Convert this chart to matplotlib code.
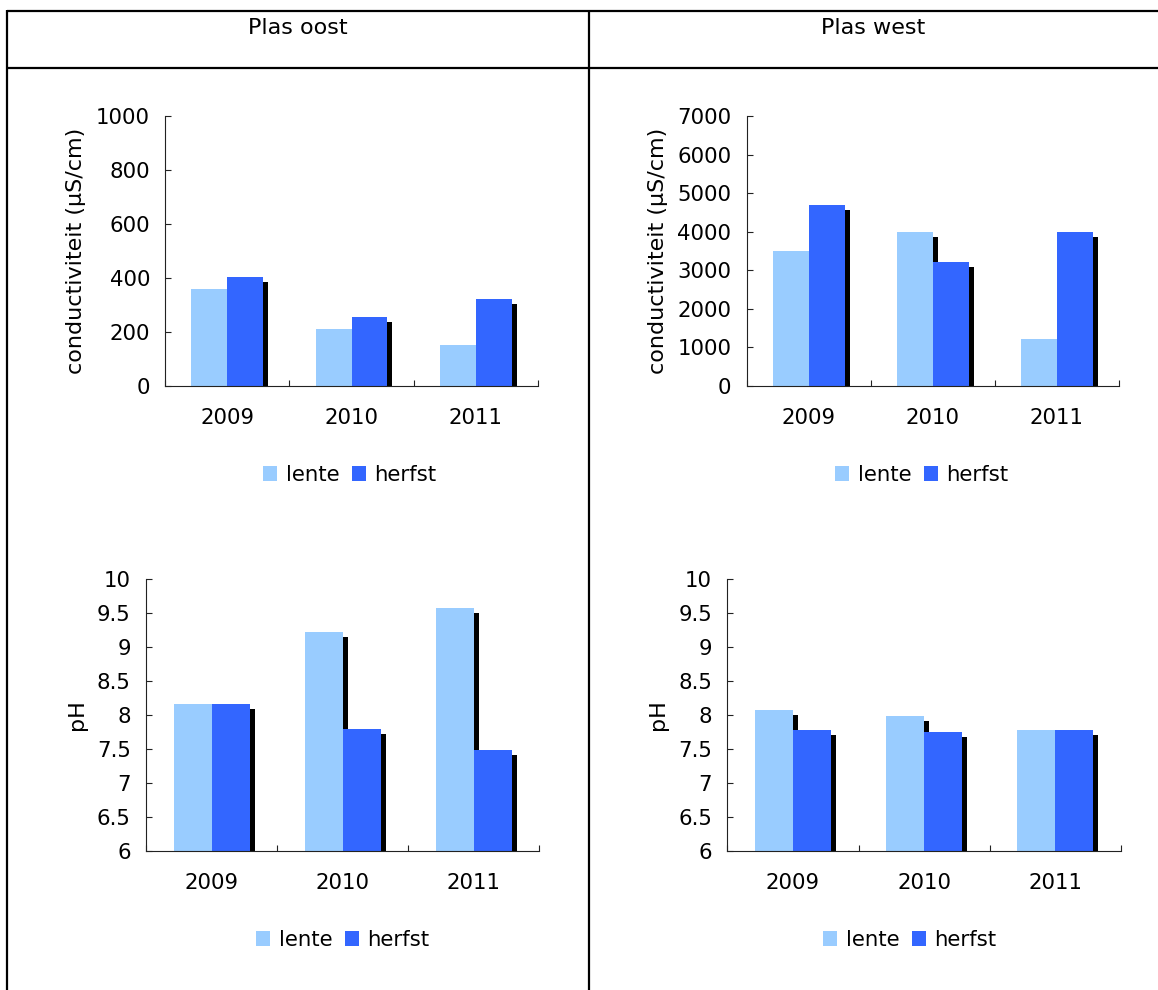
import matplotlib
matplotlib.use("Agg")
import matplotlib.pyplot as plt
import matplotlib.transforms as mtransforms
from matplotlib.lines import Line2D
from matplotlib.patches import Patch

plt.rcParams['font.family'] = ['DejaVu Sans']

# ---- data ----
years = ["2009", "2010", "2011"]
series_names = ["lente", "herfst"]

cond_oost_lente = [358, 210, 151]
cond_oost_herfst = [402, 254, 321]
cond_west_lente = [3490, 4000, 1210]
cond_west_herfst = [4680, 3220, 4000]
ph_oost_lente = [8.16, 9.22, 9.57]
ph_oost_herfst = [8.16, 7.80, 7.48]
ph_west_lente = [8.07, 7.98, 7.78]
ph_west_herfst = [7.78, 7.75, 7.78]

col_lente = "#99CCFF"
col_herfst = "#3366FF"

W, H = 1158, 990
fig = plt.figure(figsize=(W / 100, H / 100), dpi=100)


def px_rect(x0, x1, ytop, ybot):
    return [x0 / W, 1 - ybot / H, (x1 - x0) / W, (ybot - ytop) / H]


def draw_panel(rect, lente, herfst, ylim, yticks, yticklabels, ylabel):
    ax = fig.add_axes(rect)
    x = list(range(len(years)))
    bw = 0.29
    shadow = mtransforms.offset_copy(ax.transData, fig=fig, x=5, y=-5, units='dots')
    base = ylim[0]
    for vals, off in ((lente, -bw / 2), (herfst, bw / 2)):
        sh = ax.bar([xi + off for xi in x], [v - base for v in vals], bw,
                    bottom=base, color="black", zorder=1, linewidth=0)
        for p in sh:
            p.set_transform(shadow)
    ax.bar([xi - bw / 2 for xi in x], [v - base for v in lente], bw,
           bottom=base, color=col_lente, zorder=2, linewidth=0)
    ax.bar([xi + bw / 2 for xi in x], [v - base for v in herfst], bw,
           bottom=base, color=col_herfst, zorder=2, linewidth=0)

    ax.set_xlim(-0.5, len(years) - 0.5)
    ax.set_ylim(*ylim)
    for s in ("top", "right"):
        ax.spines[s].set_visible(False)
    for s in ("left", "bottom"):
        ax.spines[s].set_linewidth(0.8)
        ax.spines[s].set_color("#222222")
        ax.spines[s].set_zorder(5)

    ax.set_yticks(yticks)
    ax.set_yticklabels(yticklabels)
    ax.tick_params(axis='y', direction='in', length=4.5, width=0.8,
                   color="#222222", labelsize=15.3, pad=11)
    # category boundary ticks, labels centred on categories
    ax.set_xticks([-0.5 + i for i in range(len(years) + 1)])
    ax.set_xticklabels([])
    ax.set_xticks(x, minor=True)
    ax.set_xticklabels(years, minor=True)
    ax.tick_params(axis='x', which='major', direction='in', length=4.5,
                   width=0.8, color="#222222")
    ax.tick_params(axis='x', which='minor', length=0, labelsize=15.3, pad=16)
    ax.set_ylabel(ylabel, fontsize=16, labelpad=7)
    return ax


cond_ticks = list(range(0, 1001, 200))
draw_panel(px_rect(165.3, 537.7, 116, 386), cond_oost_lente, cond_oost_herfst,
           (0, 1000), cond_ticks, [str(t) for t in cond_ticks],
           "conductiviteit (µS/cm)")
cond_ticks_w = list(range(0, 7001, 1000))
draw_panel(px_rect(746.7, 1119, 116, 386), cond_west_lente, cond_west_herfst,
           (0, 7000), cond_ticks_w, [str(t) for t in cond_ticks_w],
           "conductiviteit (µS/cm)")
ph_ticks = [6, 6.5, 7, 7.5, 8, 8.5, 9, 9.5, 10]
ph_labels = ["6", "6.5", "7", "7.5", "8", "8.5", "9", "9.5", "10"]
draw_panel(px_rect(146, 539.3, 579, 851), ph_oost_lente, ph_oost_herfst,
           (6, 10), ph_ticks, ph_labels, "pH")
draw_panel(px_rect(727.3, 1121, 579, 851), ph_west_lente, ph_west_herfst,
           (6, 10), ph_ticks, ph_labels, "pH")

# legends
handles = [Patch(facecolor=col_lente, edgecolor="none"),
           Patch(facecolor=col_herfst, edgecolor="none")]
for cx, cy in ((350, 475), (922, 475), (343, 940), (910, 940)):
    fig.legend(handles, series_names, loc="center",
               bbox_to_anchor=(cx / W, 1 - cy / H), ncol=2, frameon=False,
               fontsize=15.3, handlelength=0.65, handleheight=0.65,
               handletextpad=0.4, columnspacing=0.6, borderpad=0)

# table frame
lw = 1.6


def fline(x0, y0, x1, y1):
    fig.add_artist(Line2D([x0 / W, x1 / W], [1 - y0 / H, 1 - y1 / H],
                          color="black", linewidth=lw, solid_capstyle="butt"))


fline(7.5, 11, W, 11)
fline(7.5, 68, W, 68)
fline(7.5, 10.3, 7.5, H)
fline(589, 10.3, 589, H)

fig.text(298 / W, 1 - 28 / H, "Plas oost", ha="center", va="center", fontsize=16)
fig.text(873 / W, 1 - 28 / H, "Plas west", ha="center", va="center", fontsize=16)

fig.savefig("out.png", dpi=100, facecolor="white")
